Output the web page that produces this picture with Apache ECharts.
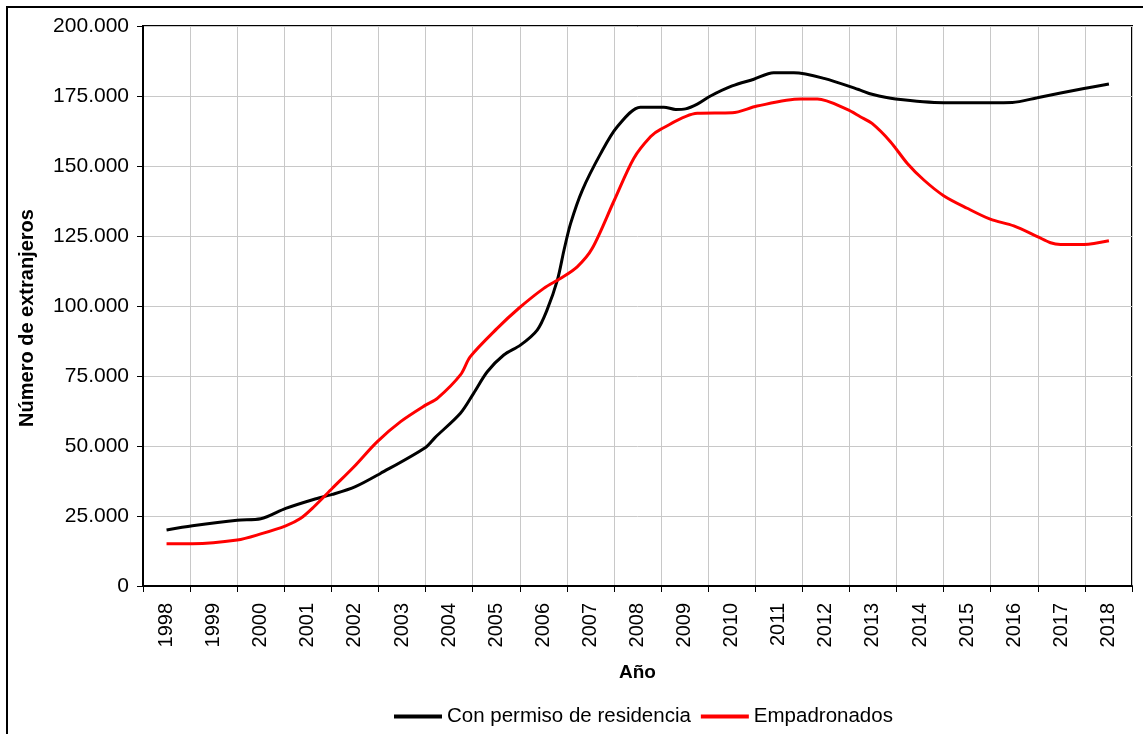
<!DOCTYPE html>
<html>
<head>
<meta charset="utf-8">
<script src="https://cdn.jsdelivr.net/npm/echarts@6/dist/echarts.min.js"></script>
<style>
    html, body { margin: 0; padding: 0; background: #fff; overflow: hidden; }
    #marco { position: absolute; left: 6px; top: 6px; width: 1200px; height: 800px; border: 2px solid #000; }
    #grafico { position: absolute; left: 0; top: 0; width: 1143px; height: 734px; }
</style>
</head>
<body>
<div id="marco"></div>
<div id="grafico"></div>
<script>
// años (eje de categorías)
var anios = ['1998','1999','2000','2001','2002','2003','2004','2005','2006','2007',
             '2008','2009','2010','2011','2012','2013','2014','2015','2016','2017','2018'];

// Con permiso de residencia  [año, valor]
var conPermiso = [
    [1998.00, 20000], [1998.55, 21500], [1999.50, 23500], [2000.00, 24000],
    [2000.53, 27700], [2001.12, 30900], [2001.52, 32700], [2002.01, 35500],
    [2002.54, 40200], [2003.50, 49500], [2003.70, 53000], [2004.24, 61700],
    [2004.52, 68800], [2004.81, 76500], [2005.16, 82500], [2005.52, 86100],
    [2005.87, 91400], [2006.08, 98600], [2006.30, 109300], [2006.44, 120000],
    [2006.58, 129500], [2006.83, 141400], [2007.22, 154500], [2007.57, 164000],
    [2008.06, 171000], [2008.56, 171000], [2008.81, 170200], [2009.02, 170400],
    [2009.27, 172100], [2009.55, 175000], [2010.01, 178600], [2010.47, 181000],
    [2010.89, 183300], [2011.32, 183300], [2011.96, 181300], [2012.73, 177100],
    [2012.98, 175600], [2013.48, 173900], [2014.50, 172600], [2015.49, 172600],
    [2015.96, 172700], [2016.49, 174400], [2017.48, 177700], [2018.01, 179300]
];

// Empadronados  [año, valor]
var empadronados = [
    [1998.00, 15100], [1998.55, 15100], [1999.50, 16400], [2000.00, 18600],
    [2000.53, 21500], [2000.85, 24200], [2001.13, 28300], [2001.52, 34900],
    [2001.98, 42600], [2002.47, 51500], [2002.97, 58700], [2003.50, 64600],
    [2003.75, 67000], [2004.24, 75400], [2004.45, 81900], [2005.02, 92000],
    [2005.48, 99200], [2006.01, 106300], [2006.37, 109900], [2006.72, 114000],
    [2007.04, 120600], [2007.50, 137500], [2007.92, 152700], [2008.28, 160500],
    [2008.49, 163100], [2009.27, 168800], [2010.01, 169000], [2010.54, 171400],
    [2011.46, 173900], [2011.82, 173900], [2012.45, 170200], [2012.73, 167600],
    [2012.98, 165200], [2013.37, 158700], [2013.73, 150900], [2014.08, 145000],
    [2014.50, 139400], [2015.00, 134900], [2015.49, 131000], [2015.99, 128600],
    [2016.49, 124800], [2016.77, 122600], [2016.98, 122000], [2017.48, 122000],
    [2018.01, 123300]
];

var nombres = ['Con permiso de residencia', 'Empadronados'];

var fuente = 'Arial, "Liberation Sans", sans-serif';

function miles(v) {
    return String(v).replace(/\B(?=(\d{3})+(?!\d))/g, '.');
}

var grafico = echarts.init(document.getElementById('grafico'));

var option = {
    backgroundColor: 'transparent',
    animation: false,
    textStyle: { fontFamily: fuente, color: '#000' },
    grid: {
        left: 143,
        right: 11,
        top: 26,
        bottom: 148,
        show: true,
        borderColor: '#000',
        borderWidth: 2,
        backgroundColor: 'transparent'
    },
    legend: {
        left: 389,
        top: 701,
        itemWidth: 48,
        itemHeight: 4,
        itemGap: 10,
        icon: 'rect',
        textStyle: { fontFamily: fuente, fontSize: 20.5, color: '#000' },
        data: nombres
    },
    xAxis: [
        {
            type: 'category',
            data: anios,
            boundaryGap: true,
            name: 'Año',
            nameLocation: 'middle',
            nameGap: 77,
            nameTextStyle: { fontFamily: fuente, fontSize: 19, fontWeight: 'bold', color: '#000' },
            axisLine: { lineStyle: { color: '#000', width: 2 } },
            axisTick: { show: true, length: 6, lineStyle: { color: '#000', width: 1 } },
            axisLabel: { rotate: 90, margin: 17, fontSize: 20, color: '#000', fontFamily: fuente, interval: 0 },
            splitLine: { show: true, interval: 0, lineStyle: { color: '#c8c8c8', width: 1 } }
        },
        {
            type: 'value',
            min: 1997.5,
            max: 2018.5,
            show: false,
            splitLine: { show: false }
        }
    ],
    yAxis: {
        type: 'value',
        min: 0,
        max: 200000,
        interval: 25000,
        name: 'Número de extranjeros',
        nameLocation: 'middle',
        nameGap: 106,
        nameTextStyle: { fontFamily: fuente, fontSize: 20, fontWeight: 'bold', color: '#000', padding: [0, 24, 0, 0] },
        axisLine: { show: true, lineStyle: { color: '#000', width: 2 } },
        axisTick: { show: true, length: 6, lineStyle: { color: '#000', width: 1 } },
        axisLabel: { margin: 14, fontSize: 21, color: '#000', fontFamily: fuente, formatter: miles },
        splitLine: { lineStyle: { color: '#c8c8c8', width: 1 } }
    },
    series: [
        {
            name: nombres[0],
            type: 'line',
            xAxisIndex: 1,
            data: conPermiso,
            smooth: 0.3,
            showSymbol: false,
            symbol: 'none',
            color: '#000',
            lineStyle: { color: '#000', width: 3 }
        },
        {
            name: nombres[1],
            type: 'line',
            xAxisIndex: 1,
            data: empadronados,
            smooth: 0.3,
            showSymbol: false,
            symbol: 'none',
            color: '#ff0000',
            lineStyle: { color: '#ff0000', width: 3 }
        }
    ]
};

grafico.setOption(option);
</script>
</body>
</html>
